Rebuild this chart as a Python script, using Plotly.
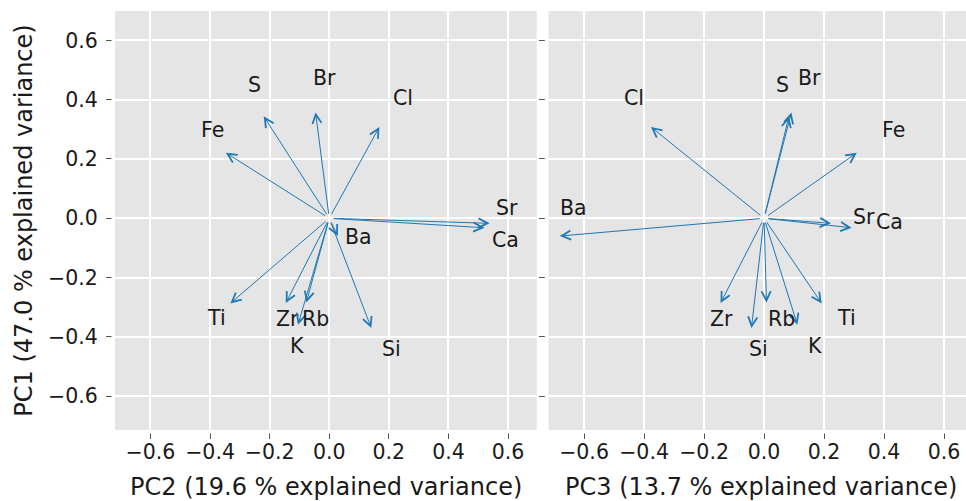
import plotly.graph_objects as go

elements = ["Sr", "Ca", "Fe", "S", "Br", "Cl", "Ba", "Ti", "Zr", "K", "Rb", "Si"]
pc1 = [-0.017, -0.032, 0.221, 0.344, 0.357, 0.308, -0.060, -0.287, -0.286, -0.359, -0.284, -0.370]
pc2 = [0.538, 0.521, -0.347, -0.220, -0.046, 0.168, 0.029, -0.332, -0.146, -0.105, -0.077, 0.141]
pc3 = [0.223, 0.292, 0.309, 0.083, 0.091, -0.377, -0.681, 0.192, -0.145, 0.111, 0.008, -0.042]

# label positions (adjusted text placement)
lab2_x = [0.598, 0.590, -0.393, -0.250, -0.017, 0.249, 0.097, -0.378, -0.140, -0.107, -0.046, 0.208]
lab2_y = [0.034, -0.073, 0.299, 0.449, 0.474, 0.407, -0.064, -0.336, -0.340, -0.430, -0.340, -0.441]
lab3_x = [0.334, 0.417, 0.430, 0.063, 0.152, -0.435, -0.634, 0.275, -0.142, 0.170, 0.058, -0.020]
lab3_y = [0.003, -0.011, 0.299, 0.449, 0.474, 0.407, 0.034, -0.336, -0.340, -0.430, -0.340, -0.441]

ticks = [-0.6, -0.4, -0.2, 0.0, 0.2, 0.4, 0.6]
tick_text = ["\u22120.6", "\u22120.4", "\u22120.2", "0.0", "0.2", "0.4", "0.6"]
xtitle_left = "PC2 (19.6 % explained variance)"
xtitle_right = "PC3 (13.7 % explained variance)"
ytitle = "PC1 (47.0 % explained variance)"

BLUE = "#1f77b4"
FONT = "DejaVu Sans"
FS = 20.5
FS_TITLE = 24
TXT = "#1a1a1a"

W, H = 966, 501
ML, MR, MT, MB = 115, 0, 11, 71
PW = W - ML - MR
PH = H - MT - MB

X1_RANGE = [-0.719, 0.696]
X2_RANGE = [-0.719, 0.673]   # right panel is cut by the image edge
X2_FULL = [-0.719, 0.696]    # full extent of the right panel (for title centring)
Y_RANGE = [-0.714, 0.699]

fig = go.Figure()
# invisible traces to instantiate axes
fig.add_trace(go.Scatter(x=[0], y=[0], xaxis="x", yaxis="y", mode="markers",
                         marker=dict(opacity=0), hoverinfo="skip", showlegend=False))
fig.add_trace(go.Scatter(x=[0], y=[0], xaxis="x2", yaxis="y2", mode="markers",
                         marker=dict(opacity=0), hoverinfo="skip", showlegend=False))

annotations = []
for xs, lx, ly, xr, yr in [(pc2, lab2_x, lab2_y, "x", "y"), (pc3, lab3_x, lab3_y, "x2", "y2")]:
    for name, x, y, tx, ty in zip(elements, xs, pc1, lx, ly):
        annotations.append(dict(
            x=x, y=y, ax=0, ay=0, xref=xr, yref=yr, axref=xr, ayref=yr,
            text="", showarrow=True, arrowhead=5, arrowsize=1.8, arrowwidth=1,
            arrowcolor=BLUE, startstandoff=3, standoff=0,
        ))
        annotations.append(dict(
            x=tx, y=ty, xref=xr, yref=yr, text=name, showarrow=False,
            font=dict(family=FONT, size=FS, color=TXT),
            xanchor="center", yanchor="middle",
        ))

# x-axis titles as annotations (right one centred on the full panel width)
title_y = -(486 - (MT + PH)) / PH - 0.0
for text, xr, xc in [(xtitle_left, "x", sum(X1_RANGE) / 2), (xtitle_right, "x2", sum(X2_FULL) / 2)]:
    annotations.append(dict(
        x=xc, y=0, xref=xr, yref="paper", text=text, showarrow=False,
        xanchor="center", yanchor="middle", yshift=-(486 - (MT + PH)) - 1,
        font=dict(family=FONT, size=FS_TITLE, color=TXT),
    ))

axis_common = dict(
    tickmode="array", tickvals=ticks, ticktext=tick_text,
    showgrid=True, gridcolor="white", gridwidth=1.5,
    zeroline=False, showline=False,
    ticks="outside", ticklen=8, tickwidth=1, tickcolor="#555555",
    tickfont=dict(family=FONT, size=FS, color=TXT),
)

dom1 = [0, 0.4955]
dom2 = [0.5092, 1.0]
gap = 3.5  # white gap between plot area and tick marks (px)
gx = gap / PW
gy = gap / PH
shapes = []
for d in (dom1, dom2):
    shapes.append(dict(type="rect", xref="paper", yref="paper",
                       x0=d[0] - gx, x1=d[0], y0=-gy, y1=1,
                       fillcolor="white", line=dict(width=0), layer="above"))
    shapes.append(dict(type="rect", xref="paper", yref="paper",
                       x0=d[0] - gx, x1=d[1], y0=-gy, y1=0,
                       fillcolor="white", line=dict(width=0), layer="above"))

fig.update_layout(
    width=W, height=H,
    margin=dict(l=ML, r=MR, t=MT, b=MB),
    paper_bgcolor="white", plot_bgcolor="#E5E5E5",
    font=dict(family=FONT, size=FS, color=TXT),
    xaxis=dict(domain=dom1, range=X1_RANGE, ticklabelstandoff=-5, **axis_common),
    xaxis2=dict(domain=dom2, range=X2_RANGE, anchor="y2", ticklabelstandoff=-5, **axis_common),
    yaxis=dict(domain=[0, 1], range=Y_RANGE, ticklabelstandoff=4,
               title=dict(text=ytitle, font=dict(family=FONT, size=FS_TITLE, color=TXT), standoff=8),
               **axis_common),
    yaxis2=dict(domain=[0, 1], range=Y_RANGE, anchor="x2", showticklabels=False,
                **axis_common),
    annotations=annotations,
    shapes=shapes,
    showlegend=False,
)

fig.write_html("out.html")
